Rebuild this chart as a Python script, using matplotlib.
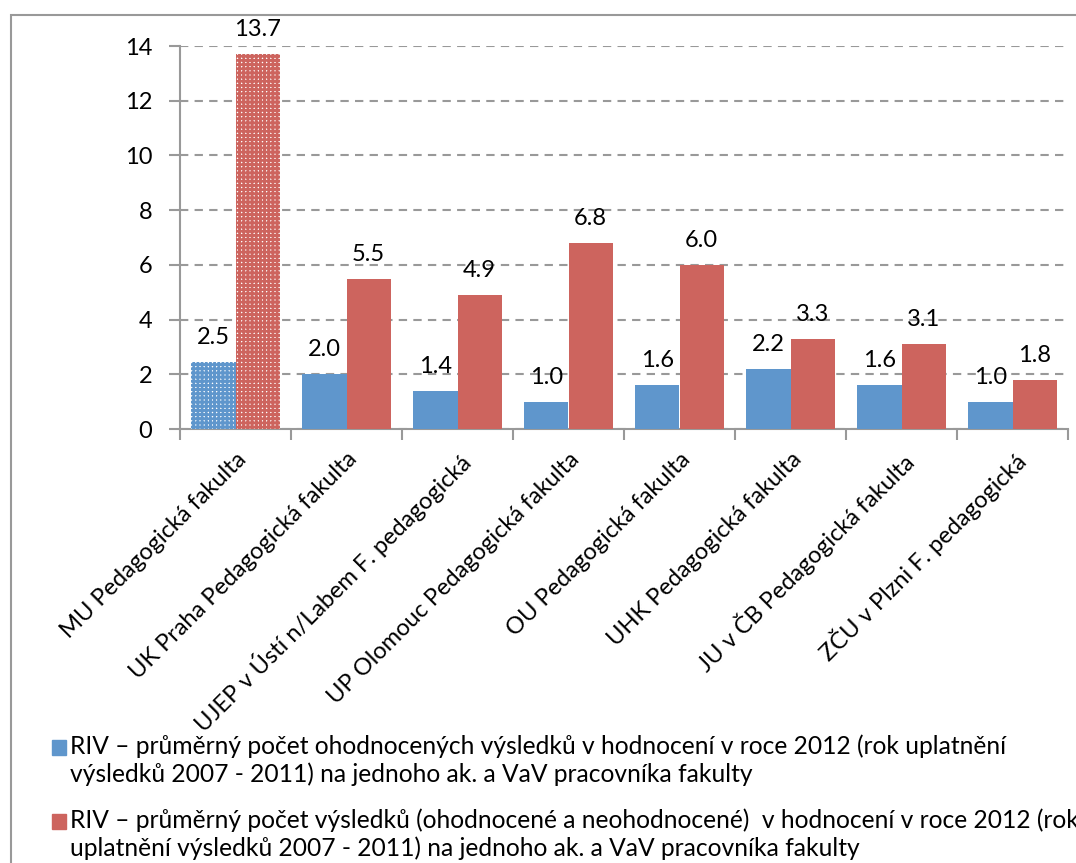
import matplotlib
matplotlib.use('Agg')
import matplotlib.pyplot as plt
from matplotlib.patches import Rectangle
import numpy as np

faculties = ['MU Pedagogická fakulta', 'UK Praha Pedagogická fakulta',
             'UJEP v Ústí n/Labem F. pedagogická', 'UP Olomouc Pedagogická fakulta',
             'OU Pedagogická fakulta', 'UHK Pedagogická fakulta',
             'JU v ČB Pedagogická fakulta', 'ZČU v Plzni F. pedagogická']
evaluated = [2.45, 2.0, 1.4, 1.0, 1.6, 2.2, 1.6, 1.0]
evaluated_labels = ['2.5', '2.0', '1.4', '1.0', '1.6', '2.2', '1.6', '1.0']
all_results = [13.7, 5.5, 4.9, 6.8, 6.0, 3.3, 3.1, 1.8]
all_labels = ['13.7', '5.5', '4.9', '6.8', '6.0', '3.3', '3.1', '1.8']
legend_texts = [
    'RIV – průměrný počet ohodnocených výsledků v hodnocení v roce 2012 (rok uplatnění\nvýsledků 2007 - 2011) na jednoho ak. a VaV pracovníka fakulty',
    'RIV – průměrný počet výsledků (ohodnocené a neohodnocené)  v hodnocení v roce 2012 (rok\nuplatnění výsledků 2007 - 2011) na jednoho ak. a VaV pracovníka fakulty',
]

BLUE = '#5F96CC'
RED = '#CD645E'
GRID = '#999999'
FS = 17

plt.rcParams['font.family'] = ['Lato', 'DejaVu Sans']
plt.rcParams['hatch.linewidth'] = 2.0

fig = plt.figure(figsize=(10.76, 8.63), dpi=100)
ax = fig.add_axes([180 / 1076, 1 - 429 / 863, (1068 - 180) / 1076, (429 - 46) / 863])

x = np.arange(len(faculties))
w = 0.4
b1 = ax.bar(x - w / 2, evaluated, w, color=BLUE, zorder=3)
b2 = ax.bar(x + w / 2, all_results, w, color=RED, zorder=3)
# first pair (MU) drawn with a checkered fill
for bar, col in ((b1[0], BLUE), (b2[0], RED)):
    bar.set_facecolor('white')
    bar.set_edgecolor(col)
    bar.set_hatch('++++')
    bar.set_linewidth(0)

for bars, labels in ((b1, evaluated_labels), (b2, all_labels)):
    for bar, lab in zip(bars, labels):
        ax.annotate(lab, (bar.get_x() + bar.get_width() / 2, bar.get_height()),
                    xytext=(0, 10), textcoords='offset points',
                    ha='center', va='bottom', fontsize=FS)

ax.set_xlim(-0.5, len(faculties) - 0.5)
ax.set_ylim(0, 14)
ax.set_yticks(np.arange(0, 15, 2))
ax.yaxis.grid(True, linestyle=(0, (4, 3)), color=GRID, linewidth=1.5, zorder=0)
for s in ('top', 'right'):
    ax.spines[s].set_visible(False)
for s in ('left', 'bottom'):
    ax.spines[s].set_color(GRID)
    ax.spines[s].set_linewidth(1.5)

ax.set_xticks(x)
ax.set_xticklabels(faculties, rotation=45, ha='right', rotation_mode='anchor', fontsize=FS)
ax.set_xticks(np.arange(-0.5, len(faculties)), minor=True)
ax.tick_params(axis='x', which='major', length=0, pad=14)
ax.tick_params(axis='x', which='minor', length=8, width=1.5, color=GRID)
ax.tick_params(axis='y', length=8, width=1.5, color=GRID, labelsize=FS, pad=12)

# outer chart border (cropped at right and bottom)
fig.patches.append(Rectangle((11 / 1076, -0.1), 1.2, 1 - 15 / 863 + 0.1,
                             transform=fig.transFigure, fill=False,
                             edgecolor=GRID, linewidth=1.5))

# legend
for i, (txt, col) in enumerate(zip(legend_texts, (BLUE, RED))):
    y0 = 1 - (748 + 74 * i) / 863
    fig.patches.append(Rectangle((52 / 1076, y0 - 7 / 863), 14 / 1076, 15 / 863,
                                 transform=fig.transFigure, color=col))
    fig.text(70 / 1076, y0 + 14 / 863, txt, fontsize=17.7, va='top', ha='left',
             linespacing=1.25)

fig.savefig('out.png', dpi=100)
